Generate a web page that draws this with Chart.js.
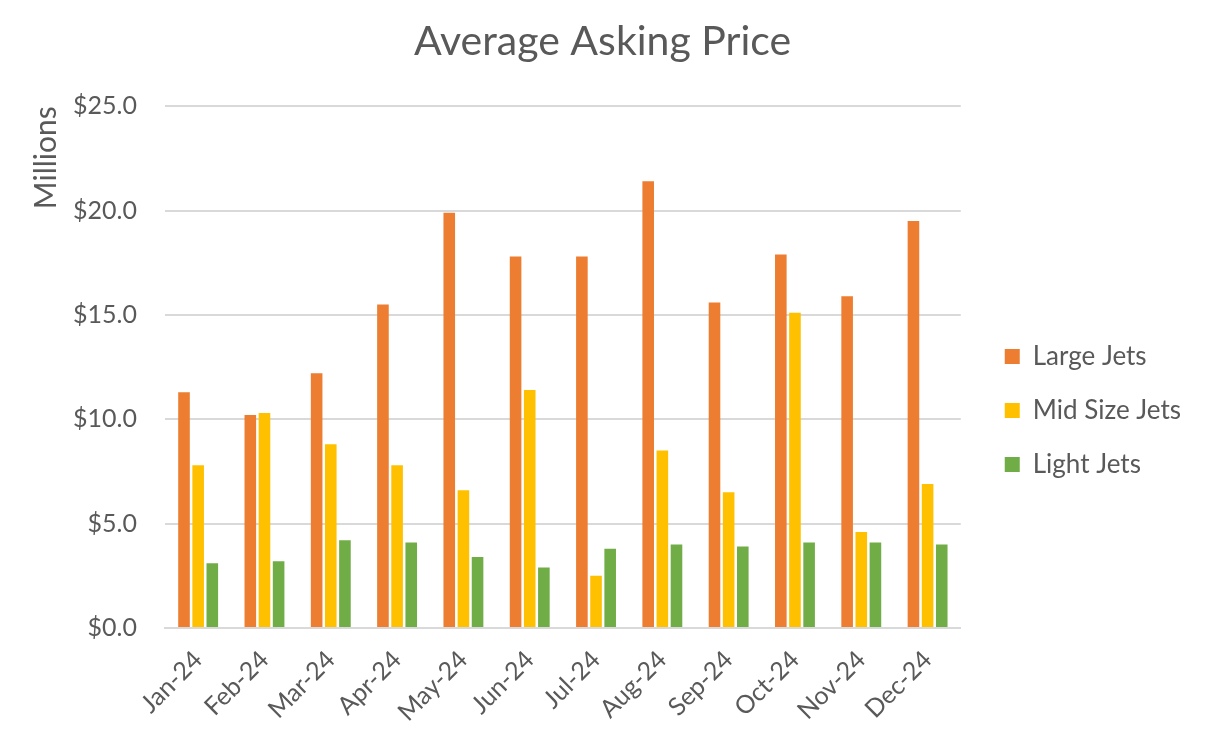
<!DOCTYPE html>
<html>
<head>
<meta charset="utf-8">
<title>Average Asking Price</title>
<script src="https://cdn.jsdelivr.net/npm/chart.js@4"></script>
<style>
    html, body { margin: 0; padding: 0; background: #ffffff; }
    #wrap { width: 1207px; height: 746px; }
</style>
</head>
<body>
<div id="wrap"><canvas id="priceChart" width="1207" height="746"></canvas></div>
<script>
// months on the x axis
const months = ['Jan-24', 'Feb-24', 'Mar-24', 'Apr-24', 'May-24', 'Jun-24',
    'Jul-24', 'Aug-24', 'Sep-24', 'Oct-24', 'Nov-24', 'Dec-24'];

// average asking price, millions of dollars
const largeJets = [11.3, 10.2, 12.2, 15.5, 19.9, 17.8, 17.8, 21.4, 15.6, 17.9, 15.9, 19.5];
const midSizeJets = [7.8, 10.3, 8.8, 7.8, 6.6, 11.4, 2.5, 8.5, 6.5, 15.1, 4.6, 6.9];
const lightJets = [3.1, 3.2, 4.2, 4.1, 3.4, 2.9, 3.8, 4.0, 3.9, 4.1, 4.1, 4.0];

const yTicks = [0, 5, 10, 15, 20, 25];

const textColor = '#595959';
const gridColor = '#d9d9d9';
const fontFamily = "Lato, 'Open Sans', sans-serif";

// extra room between plot and legend, and legend drop
const legendGap = 16;
const legendDrop = 33;

const legendGapPlugin = {
    id: 'legendGap',
    afterInit: function (chart) {
        const legend = chart.legend;
        const fit = legend.fit.bind(legend);
        legend.fit = function () {
            fit();
            this.width += legendGap;
        };
    },
    afterLayout: function (chart) {
        chart.legend.left += legendGap;
        chart.legend.right += legendGap;
        chart.legend.top += legendDrop;
        chart.legend.bottom += legendDrop;
    }
};

function makeDataset(label, data, color) {
    return {
        label: label,
        data: data,
        backgroundColor: color,
        borderWidth: 0,
        barPercentage: 0.82,
        categoryPercentage: 0.64
    };
}

new Chart(document.getElementById('priceChart'), {
    type: 'bar',
    data: {
        labels: months,
        datasets: [
            makeDataset('Large Jets', largeJets, '#ED7D31'),
            makeDataset('Mid Size Jets', midSizeJets, '#FFC000'),
            makeDataset('Light Jets', lightJets, '#70AD47')
        ]
    },
    plugins: [legendGapPlugin],
    options: {
        responsive: false,
        animation: false,
        layout: {
            padding: { left: 14, right: 16, top: 14, bottom: 5 }
        },
        plugins: {
            title: {
                display: true,
                text: 'Average Asking Price',
                color: textColor,
                font: { family: fontFamily, size: 41, weight: 'normal' },
                padding: { top: 3, bottom: 40 }
            },
            legend: {
                position: 'right',
                labels: {
                    color: textColor,
                    font: { family: fontFamily, size: 26 },
                    boxWidth: 15,
                    boxHeight: 15,
                    padding: 28
                }
            },
            tooltip: { enabled: false }
        },
        scales: {
            x: {
                grid: { display: false },
                border: { color: gridColor, width: 2 },
                afterFit: function (axis) {
                    // let the first rotated label hang left of the plot
                    axis.paddingLeft = 0;
                    axis.paddingRight = 0;
                    axis.height = 113;
                },
                ticks: {
                    color: textColor,
                    font: { family: fontFamily, size: 25 },
                    maxRotation: 45,
                    minRotation: 45,
                    padding: 9
                }
            },
            y: {
                min: 0,
                max: 25,
                afterBuildTicks: function (axis) {
                    axis.ticks = yTicks.map(v => ({ value: v }));
                },
                afterFit: function (axis) {
                    axis.width = 151;
                },
                grid: { color: gridColor, lineWidth: 2, drawTicks: false },
                border: { display: false },
                ticks: {
                    color: textColor,
                    font: { family: fontFamily, size: 25 },
                    padding: 28,
                    callback: function (value) {
                        return '$' + Number(value).toFixed(1);
                    }
                },
                title: {
                    display: true,
                    text: 'Millions',
                    align: 'end',
                    color: textColor,
                    font: { family: fontFamily, size: 30 },
                    padding: { top: 14, bottom: 0 }
                }
            }
        }
    }
});
</script>
</body>
</html>
